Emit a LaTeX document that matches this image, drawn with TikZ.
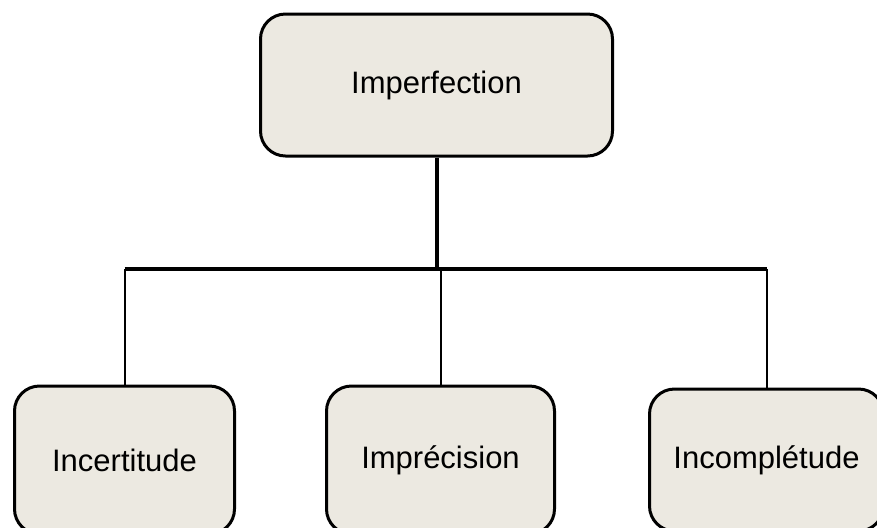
\documentclass[tikz,border=0pt]{standalone}
\usepackage{fontspec}
\setmainfont{Liberation Sans}
\definecolor{boxfill}{HTML}{ECE9E1}
\begin{document}
\begin{tikzpicture}[x=0.5pt,y=-0.5pt,
  cat/.style={draw,line width=1.5pt,rounded corners=12.5pt,fill=boxfill,inner sep=0pt,
    font=\fontsize{15.5}{18}\selectfont}]
\useasboundingbox (0,0) rectangle (877,527);

\node[cat,minimum width=176pt,minimum height=71pt] (imp) at (436.5,85) {Imperfection};
\node[cat,minimum width=110pt,minimum height=74pt] (incert) at (124.5,460) {Incertitude};
\node[cat,minimum width=114pt,minimum height=74pt] (imprec) at (440.5,460) {Imprécision};
\node[cat,minimum width=117pt,minimum height=71pt] (incompl) at (766.5,460) {Incomplétude};

\coordinate (bar) at (437,269);
\draw[line width=2pt] (imp.south) -- (imp.south |- bar);
\draw[line width=2pt] (incert.north |- bar) -- (incompl.north |- bar);
\foreach \n in {incert,imprec,incompl} \draw[line width=1pt] (\n.north) -- (\n.north |- bar);

\end{tikzpicture}
\end{document}
